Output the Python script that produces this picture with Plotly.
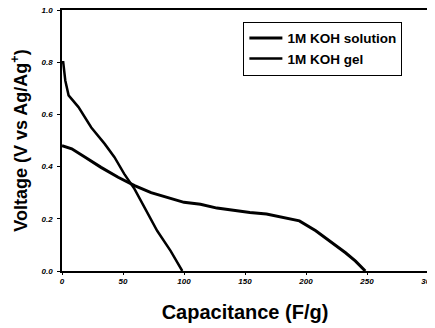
import plotly.graph_objects as go

# 1M KOH gel (starts at 0.8 V, ends near 100 F/g)
gel_x = [0, 1, 2.7, 5.4, 13.5, 24, 35, 43, 51, 59.5, 67.6, 78, 89, 98.6]
gel_y = [0.80, 0.80, 0.73, 0.673, 0.628, 0.55, 0.487, 0.436, 0.372, 0.314, 0.244, 0.154, 0.077, 0.0]

# 1M KOH solution (starts at 0.48 V, ends near 250 F/g)
sol_x = [0, 8, 19, 32, 46, 59.5, 73, 86.5, 100, 113.5, 127, 140.5, 154, 167.6, 181, 194.6, 208, 221.6, 232.4, 240.6, 248.6]
sol_y = [0.48, 0.468, 0.436, 0.397, 0.359, 0.327, 0.30, 0.282, 0.263, 0.256, 0.241, 0.233, 0.224, 0.218, 0.205, 0.192, 0.154, 0.109, 0.07, 0.038, 0.0]

x_ticks = [0, 50, 100, 150, 200, 250, 300]
y_ticks = [0.0, 0.2, 0.4, 0.6, 0.8, 1.0]

fig = go.Figure()
fig.add_trace(go.Scatter(x=sol_x, y=sol_y, mode="lines", name="1M KOH solution",
                         line=dict(color="black", width=3)))
fig.add_trace(go.Scatter(x=gel_x, y=gel_y, mode="lines", name="1M KOH gel",
                         line=dict(color="black", width=2.5)))

tickfont = dict(family="Liberation Sans, Arial", size=8, color="black", style="italic", weight="bold")

fig.update_layout(
    width=427, height=320,
    margin=dict(l=54, r=7, t=2, b=57),
    paper_bgcolor="white", plot_bgcolor="white",
    showlegend=True,
    legend=dict(x=0.93, y=0.955, xanchor="right", yanchor="top",
                bordercolor="black", borderwidth=1, bgcolor="white",
                font=dict(family="Liberation Sans, Arial", size=13.5, color="black", weight="bold"),
                tracegroupgap=0, itemwidth=33),
    xaxis=dict(range=[0, 300], tickvals=x_ticks, ticktext=[str(v) for v in x_ticks],
               showgrid=False, zeroline=False, showline=True, linecolor="black", linewidth=1.5,
               mirror=True, ticks="outside", ticklen=2, tickcolor="black",
               tickfont=tickfont, automargin=False, ticklabeloverflow="allow",
               title=dict(text="Capacitance (F/g)",
                          font=dict(family="Liberation Sans, Arial", size=20, color="black", weight="bold"),
                          standoff=20)),
    yaxis=dict(range=[0, 1.0], tickvals=y_ticks, ticktext=[f"{v:.1f}" for v in y_ticks],
               showgrid=False, zeroline=False, showline=True, linecolor="black", linewidth=1.5,
               mirror=True, ticks="outside", ticklen=3, tickcolor="black",
               tickfont=tickfont, automargin=False, ticklabeloverflow="allow",
               ticklabelstandoff=3,
               title=dict(text="Voltage (V vs Ag/Ag<sup>+</sup>)",
                          font=dict(family="Liberation Sans, Arial", size=18, color="black", weight="bold"),
                          standoff=12)),
)

fig.write_html("out.html")
